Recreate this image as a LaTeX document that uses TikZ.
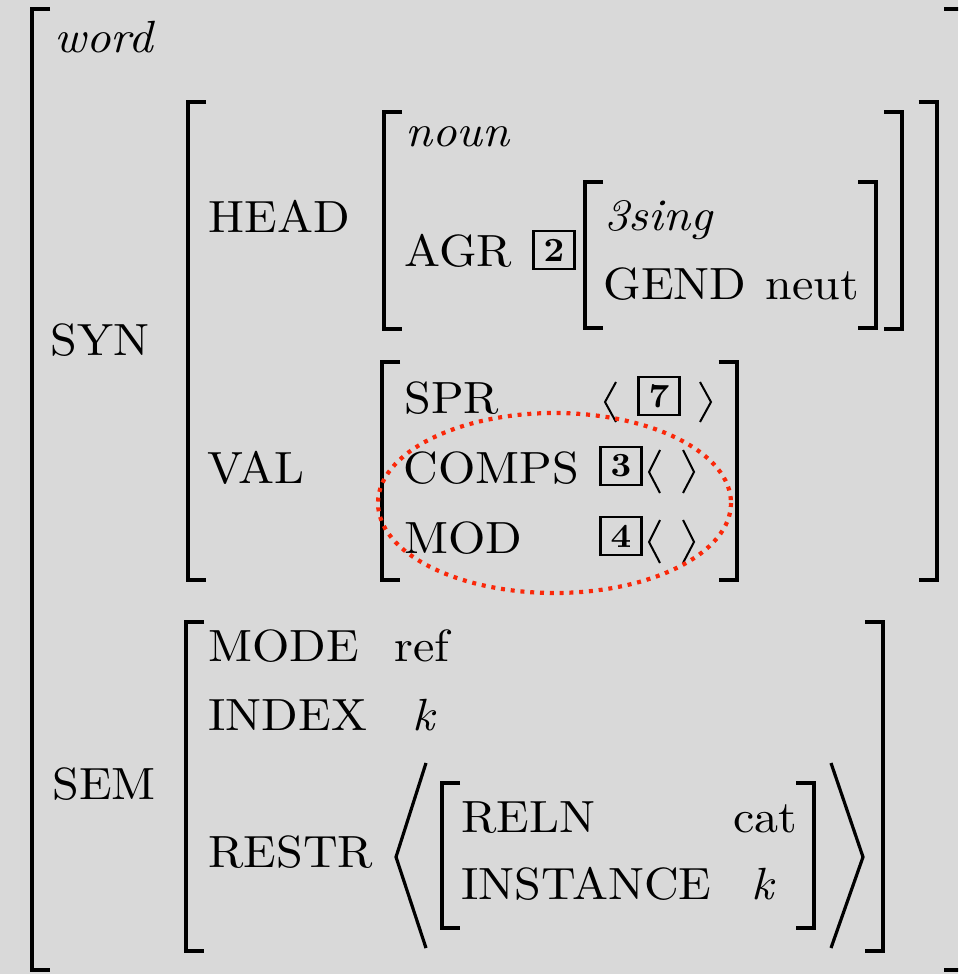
\documentclass[tikz,border=0pt]{standalone}
\usepackage{fontspec}
\setmainfont{lmroman10}[Extension=.otf, UprightFont=*-regular, ItalicFont=*-italic,
                        BoldFont=*-bold, BoldItalicFont=*-bolditalic]
\usepackage{graphicx}
\usetikzlibrary{positioning}
\definecolor{bggray}{RGB}{217,217,217}
\definecolor{ringred}{RGB}{250,40,10}
\tikzset{brk/.style = {line width=2pt, line join=miter}}
\tikzset{ang/.style = {line width=1pt, line join=miter}}
\tikzset{bigang/.style = {line width=1.6pt, line join=miter}}
\tikzset{feat/.style = {anchor=base west, inner sep=0, font=\fontsize{24}{28}\selectfont}}
\tikzset{tagbox/.style = {draw, line width=1.3pt, inner sep=0, minimum width=20.5pt,
                          minimum height=19pt, font=\fontsize{18}{20}\selectfont\bfseries}}
\tikzset{ring/.style = {ringred, line width=2.1pt, dash pattern=on 2pt off 2.9pt}}
\newcommand{\sq}[1]{\scalebox{1}[0.94]{#1}}

\begin{document}
\begin{tikzpicture}[x=0.5pt, y=-0.5pt]
      \useasboundingbox (0,0) rectangle (958,974);
      \fill[bggray] (0,0) rectangle (958,974);
      \clip (0,0) rectangle (958,974);

      % outer
      \draw[brk] (50,9) -- (31.5,9) -- (31.5,970) -- (50,970);
      \draw[brk] (944,9) -- (962,9) -- (962,970) -- (944,970);
      \node[feat] (word) at (54,53) {\sq{\itshape word}};

      % SYN
      \node[feat] (syn) at (50,355) {\sq{SYN}};
      \draw[brk] (206,102) -- (188,102) -- (188,580) -- (206,580);
      \draw[brk] (918.5,102) -- (936.5,102) -- (936.5,580) -- (918.5,580);

      \node[feat] (head) at (208,232) {\sq{HEAD}};
      \draw[brk] (402,112) -- (384,112) -- (384,329) -- (402,329);
      \draw[brk] (884,112) -- (902,112) -- (902,329) -- (884,329);
      \node[feat] (noun) at (405,147) {\sq{\itshape noun}};
      \node[feat] (agr) at (404,266) {\sq{AGR}};
      \node[tagbox] (tag2) at (554,250) {\sq{2}};
      \draw[brk] (603,182) -- (585,182) -- (585,328) -- (603,328);
      \draw[brk] (858,182) -- (876,182) -- (876,328) -- (858,328);
      \node[feat] (sing) at (604,230) {\sq{\itshape 3sing}};
      \node[feat] (gend) at (603,299) {\sq{GEND}};
      \node[feat] (neut) at (765,299) {\sq{neut}};

      \node[feat] (val) at (207,483) {\sq{VAL}};
      \draw[brk] (400,362) -- (382,362) -- (382,580) -- (400,580);
      \draw[brk] (718.5,362) -- (736.5,362) -- (736.5,580) -- (718.5,580);
      \node[feat] (spr) at (404,413) {\sq{SPR}};
      \node[feat] (comps) at (403,483) {\sq{COMPS}};
      \node[feat] (mod) at (404,553) {\sq{MOD}};
      \node[tagbox] (tag7) at (659,396) {\sq{7}};
      \node[tagbox] (tag3) at (621,466) {\sq{3}};
      \node[tagbox] (tag4) at (621,536) {\sq{4}};
      \draw[ang] (616,382) -- (605,402) -- (616,422);
      \draw[ang] (700,382) -- (711,402) -- (700,422);
      \draw[ang] (660,450) -- (649,472) -- (660,493);
      \draw[ang] (683,450) -- (694,472) -- (683,493);
      \draw[ang] (660,520) -- (649,542) -- (660,563);
      \draw[ang] (683,520) -- (694,542) -- (683,563);

      \draw[ring] (554.5,503) ellipse [x radius=176.5, y radius=90];

      % SEM
      \node[feat] (sem) at (52,799) {\sq{SEM}};
      \draw[brk] (204,622) -- (186,622) -- (186,951) -- (204,951);
      \draw[brk] (865,622) -- (883,622) -- (883,951) -- (865,951);
      \node[feat] (mode) at (208,661) {\sq{MODE}};
      \node[feat] (ref) at (394,661) {\sq{ref}};
      \node[feat] (index) at (208,730) {\sq{INDEX}};
      \node[feat] (k1) at (412,730) {\sq{\itshape k}};
      \node[feat] (restr) at (208,867) {\sq{RESTR}};
      \draw[bigang] (426,763) -- (396,857) -- (426,948);
      \draw[bigang] (831,763) -- (863,857) -- (831,948);
      \draw[brk] (460,783) -- (442,783) -- (442,928) -- (460,928);
      \draw[brk] (796,783) -- (814,783) -- (814,928) -- (796,928);
      \node[feat] (reln) at (461,832) {\sq{RELN}};
      \node[feat] (cat) at (733,832) {\sq{cat}};
      \node[feat] (inst) at (461,899) {\sq{INSTANCE}};
      \node[feat] (k2) at (751,899) {\sq{\itshape k}};
    \end{tikzpicture}
\end{document}
